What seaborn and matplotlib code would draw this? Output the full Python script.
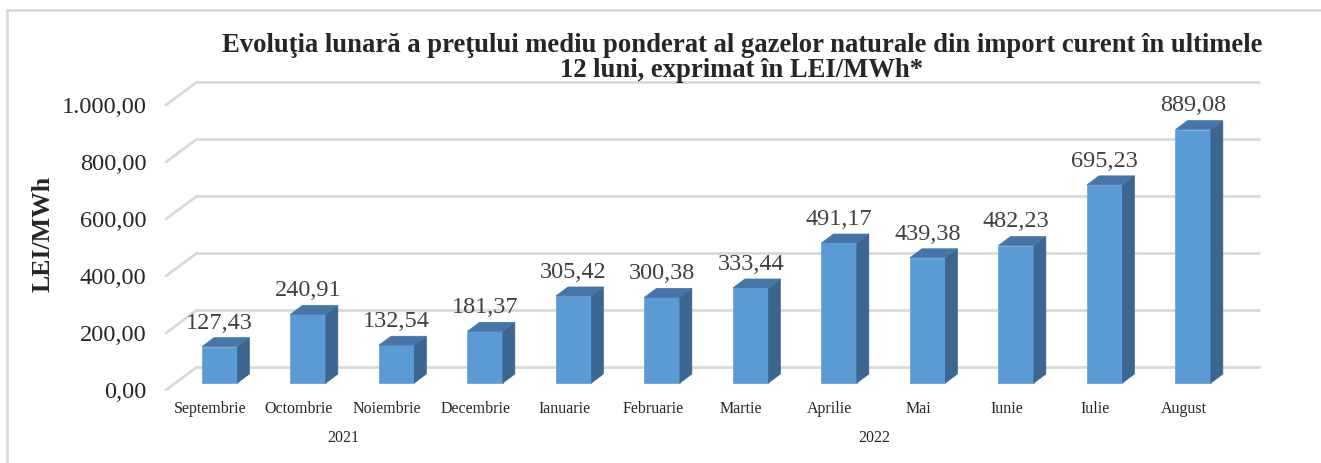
import numpy as np
import pandas as pd
import seaborn as sns
import matplotlib.pyplot as plt
from matplotlib.patches import Polygon
from matplotlib.lines import Line2D

# date
luni = ["Septembrie", "Octombrie", "Noiembrie", "Decembrie", "Ianuarie", "Februarie",
        "Martie", "Aprilie", "Mai", "Iunie", "Iulie", "August"]
ani = ["2021"] * 4 + ["2022"] * 8
preturi = [127.43, 240.91, 132.54, 181.37, 305.42, 300.38,
           333.44, 491.17, 439.38, 482.23, 695.23, 889.08]
y_ticks = [0, 200, 400, 600, 800, 1000]

titlu = ("Evoluţia lunară a preţului mediu ponderat al gazelor naturale din import curent în ultimele\n"
         "12 luni, exprimat în LEI/MWh*")

FRONT = "#5b9bd5"
TOP = "#4676a8"
SIDE = "#3a6690"
GRID = "#d9d9d9"

sns.set_style("white")
plt.rcParams["font.family"] = ["Liberation Serif", "DejaVu Serif"]

W, H, DPI = 1321, 463, 100
fig = plt.figure(figsize=(W / DPI, H / DPI), dpi=DPI)
ax = fig.add_axes([166 / W, (H - 390) / H, 1062 / W, 285 / H])

df = pd.DataFrame({"luna": luni, "an": ani, "pret": preturi})
sns.barplot(data=df, x="luna", y="pret", color=FRONT, width=0.4,
            saturation=1, ax=ax, zorder=3)
ax.set_xlim(-0.5, len(luni) - 0.5)
ax.set_ylim(0, 1000)


def px(dx, dy):
    # offset in pixeli -> unitati de date
    ux = (ax.get_xlim()[1] - ax.get_xlim()[0]) / 1062
    uy = (ax.get_ylim()[1] - ax.get_ylim()[0]) / 285
    return dx * ux, dy * uy


def ro(v):
    # format romanesc: 1.000,00
    return f"{v:,.2f}".replace(",", " ").replace(".", ",").replace(" ", ".")


bx, by = px(9.4, 7)     # planul fetei din fata a barelor
dx, dy = px(12, 9)      # adancimea barelor
wx, wy = px(31, 23)     # peretele din spate

# grila pe peretele din spate si pe peretele lateral
x0, x1 = ax.get_xlim()
for t in y_ticks:
    ax.add_line(Line2D([x0 + wx, x1 + wx], [t + wy, t + wy], color=GRID, lw=2,
                       zorder=1, clip_on=False))
    ax.add_line(Line2D([x0, x0 + wx], [t, t + wy], color=GRID, lw=2,
                       zorder=1, clip_on=False))

for p, v in zip(ax.patches, preturi):
    p.set_x(p.get_x() + bx)
    p.set_y(by)
    p.set_edgecolor("#6fa6d9")
    p.set_linewidth(0.6)
    p.set_clip_on(False)
    xl = p.get_x()
    xr = xl + p.get_width()
    yb, yt = by, by + v
    side = Polygon([(xr, yb), (xr + dx, yb + dy), (xr + dx, yt + dy), (xr, yt)],
                   closed=True, fc=SIDE, ec=SIDE, lw=0.5, zorder=3, clip_on=False)
    top = Polygon([(xl, yt), (xr, yt), (xr + dx, yt + dy), (xl + dx, yt + dy)],
                  closed=True, fc=TOP, ec=TOP, lw=0.5, zorder=3, clip_on=False)
    ax.add_patch(side)
    ax.add_patch(top)
    ax.annotate(ro(v), (xl + p.get_width() / 2, yt + dy), xytext=(0, 3),
                textcoords="offset points", ha="center", va="bottom",
                fontsize=17.5, color="#404040", zorder=5)

ax.set_yticks(y_ticks)
ax.set_yticklabels([ro(t) for t in y_ticks], fontsize=17.6)
ax.tick_params(axis="y", length=0, pad=14)
ax.tick_params(axis="x", length=0, pad=8, labelsize=11.5)
ax.set_xlabel("")
ax.set_ylabel("")
sns.despine(ax=ax, left=True, bottom=True)

# nivelul al doilea al axei: anii
for an in ["2021", "2022"]:
    idx = [i for i, a in enumerate(ani) if a == an]
    ax.text((idx[0] + idx[-1]) / 2, -0.168, an, transform=ax.get_xaxis_transform(),
            ha="center", va="center", fontsize=11.5)

fig.text(43 / W, 1 - 234 / H, "LEI/MWh", rotation=90, ha="center", va="center",
         fontsize=18.5, fontweight="bold")
fig.text(742 / W, 1 - 58 / H, titlu, ha="center", va="center", fontsize=19.2,
         fontweight="bold", linespacing=1.0)

# chenarul graficului
fig.add_artist(Line2D([7 / W, 7 / W], [0, 1 - 10 / H], color=GRID, lw=2))
fig.add_artist(Line2D([7 / W, 1], [1 - 10 / H, 1 - 10 / H], color=GRID, lw=2))

fig.savefig("out.png", dpi=DPI)
